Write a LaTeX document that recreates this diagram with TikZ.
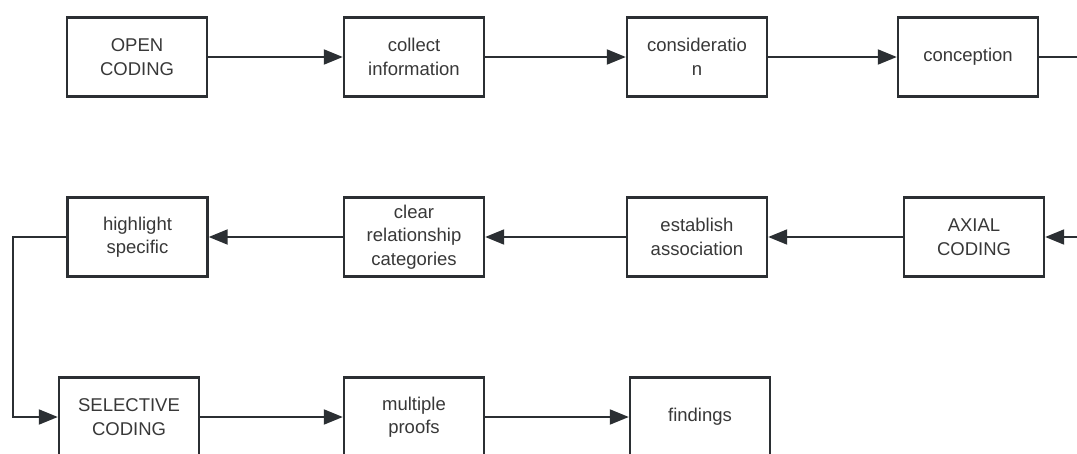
\documentclass[tikz,border=0pt]{standalone}
\usepackage{fontspec}
\setmainfont{Liberation Sans}
\usetikzlibrary{arrows.meta}
\definecolor{ink}{HTML}{2B2F33}
\definecolor{txt}{HTML}{383838}
\tikzset{
  stepbox/.style={draw=ink, line width=2.4pt, fill=white, minimum width=140pt, minimum height=79pt,
    align=center, text=txt, font=\fontsize{18.5}{23.5}\selectfont, inner sep=0pt},
  conn/.style={draw=ink, line width=2pt, -{Triangle[length=19pt,width=15pt]}},
  plain/.style={draw=ink, line width=2pt}
}
\begin{document}
\begin{tikzpicture}[x=1pt,y=-1pt]
\useasboundingbox (0,0) rectangle (1077,453);
\begin{scope}
\clip (0,0) rectangle (1077,453);
\node[stepbox] (open) at (137,57) {OPEN\\CODING};
\node[stepbox] (collect) at (414,57) {collect\\information};
\node[stepbox] (consid) at (697,57) {consideratio\\n};
\node[stepbox] (concep) at (968,57) {conception};
\node[stepbox] (high) at (137.5,237) {highlight\\specific};
\node[stepbox] (clear) at (414,237) {clear\\relationship\\categories};
\node[stepbox] (estab) at (697,237) {establish\\association};
\node[stepbox] (axial) at (974,237) {AXIAL\\CODING};
\node[stepbox] (sel) at (129,417) {SELECTIVE\\CODING};
\node[stepbox] (mult) at (414,417) {multiple\\proofs};
\node[stepbox] (find) at (700,417) {findings};
\coordinate (r1) at (1080,57);
\coordinate (r2) at (1080,237);
\coordinate (lx) at (13,237);
\draw[conn] (open) -- (collect);
\draw[conn] (collect) -- (consid);
\draw[conn] (consid) -- (concep);
\draw[plain] (concep.east) -- (r1);
\draw[conn] (r2) -- (axial.east);
\draw[conn] (axial.west) -- (estab.east);
\draw[conn] (estab) -- (clear);
\draw[conn] (clear) -- (high);
\draw[conn] (high.west) -- (lx) |- (sel.west);
\draw[conn] (sel) -- (mult);
\draw[conn] (mult) -- (find);
\end{scope}
\end{tikzpicture}
\end{document}
